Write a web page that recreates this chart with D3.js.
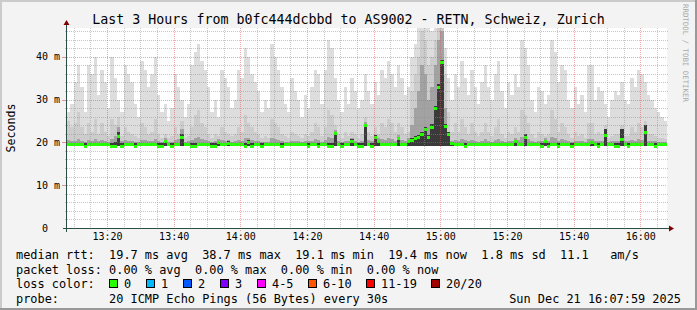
<!DOCTYPE html>
<html>
<head>
<meta charset="utf-8">
<script src="https://cdn.jsdelivr.net/npm/d3@7"></script>
<style>
body { margin: 0; background: #f3f3f3; }
svg text { font-family: "DejaVu Sans Mono", monospace; white-space: pre; }
</style>
</head>
<body>
<div id="chart"></div>
<script>
// time range of the graph (3 hours, one bin per minute)
var startTime = new Date(2025, 11, 21, 13, 8);
var endTime = new Date(2025, 11, 21, 16, 8);
var stepMinutes = 1;

// median rtt per bin (ms)
var medianRtt = [
    19.5,19.5,19.5,19.6,19.5,19.1,19.5,19.5,19.6,19.5,
    19.5,19.5,19.5,19.2,19.1,21.5,19.2,19.5,19.5,19.5,
    19.1,19.5,19.5,19.5,19.5,19.5,19.5,19.2,19.1,20.2,
    19.5,19.1,19.5,19.5,21.3,19.5,19.5,19.1,19.2,19.5,
    19.5,19.5,19.5,19.1,19.1,20.0,19.5,19.5,19.9,19.5,
    19.5,19.5,19.5,19.1,20.1,19.1,19.5,19.5,19.2,19.5,
    19.5,19.5,19.5,19.5,19.1,19.5,19.5,19.5,19.5,19.5,
    19.5,19.5,19.1,19.5,19.5,19.2,19.5,19.5,19.1,19.2,
    22.1,19.5,19.1,19.5,19.5,20.4,19.5,19.1,19.2,24.0,
    19.5,19.1,21.3,20.2,19.5,19.5,19.5,19.5,19.5,21.0,
    19.5,19.5,20.2,20.5,21.0,21.3,22.0,23.0,21.3,23.7,
    28.0,33.0,38.7,23.8,22.0,19.8,19.5,19.5,19.5,19.2,
    19.5,19.5,19.5,19.5,19.5,19.5,19.5,19.5,19.5,19.5,
    19.5,19.5,19.5,19.5,20.2,19.5,19.5,21.2,19.5,19.5,
    19.5,19.5,19.1,20.3,19.1,19.5,19.5,19.2,19.5,19.5,
    19.5,19.1,19.5,19.5,19.5,19.5,19.5,20.0,19.5,19.1,
    19.5,21.7,19.5,19.5,19.2,19.1,20.8,19.5,19.2,19.5,
    19.5,19.5,19.5,22.4,19.5,19.5,19.2,19.5,19.5,19.5
];

// smoke: highest ping per bin
var smokeMax = [
    27,29,34,38,33,27,38,36,40,31,
    37,34,28,40,35,30,27,38,36,34,
    29,26,39,37,33,36,40,31,27,29,
    25,28,36,33,30,26,29,38,41,43,
    39,37,33,27,30,26,37,35,33,28,
    30,37,35,42,40,36,34,32,27,30,
    28,43,40,37,33,29,27,35,32,30,
    26,31,28,33,37,36,29,37,44,42,
    35,30,27,33,29,35,32,28,30,36,
    32,29,34,31,37,35,39,36,33,38,
    35,31,33,40,43,48,48,48,47,46,
    48,48,48,42,35,30,36,33,39,35,
    31,37,33,29,34,38,33,30,36,39,
    32,28,34,31,36,33,44,42,38,30,
    27,33,32,29,31,44,41,34,38,37,
    30,28,33,29,31,27,38,38,30,33,
    32,29,26,30,32,31,34,30,29,35,
    33,37,36,34,31,30,28,27,26,25
];

// smoke: upper pings (~90%)
var smokeHigh = [
    25,23.5,24.5,27,23.5,22,24.5,22.5,25.5,22,
    24.5,22.5,21.5,25.5,24,26,21.5,23.5,22.5,22,
    21.5,21,24.5,23.5,22,22.5,25.5,22,21,22,
    21,21.5,23.5,22,25,21,21.5,23.5,26.5,27.5,
    24.5,23.5,22,21,22,21.5,23.5,22.5,22,21.5,
    22,23.5,22.5,26.5,24.5,23.5,22.5,22,21,21.5,
    21,25.5,24.5,23.5,22,21.5,21,22.5,22,21.5,
    21,22,21.5,22.5,24.5,23.5,21.5,23.5,27.5,26.5,
    24,22,21,22.5,21.5,22.5,22,21,22,26,
    22.5,21.5,23.5,22,24.5,23.5,25.5,24.5,22.5,24.5,
    23.5,22,22.5,32,36,40,46,44,38,40,
    44,48,48,36,27,22.5,24.5,22.5,25.5,23.5,
    22,24.5,22.5,21.5,22.5,24.5,22.5,21.5,23.5,25.5,
    22,21,22.5,22,23.5,22.5,27.5,26.5,24.5,22,
    21,22.5,22,21.5,22,27.5,25.5,22.5,24.5,23.5,
    22,21,22.5,21.5,22,21,24.5,24.5,22,22.5,
    22,24,21,21.5,22,22,24,21.5,21.5,23.5,
    22.5,24.5,23.5,25,22,22,21.5,21,21,20.8
];

// smoke: middle pings (~75%)
var smokeMid = [
    20.6,20.4,20.3,20.8,20.3,20.1,20.5,20.3,20.7,20.2,
    20.5,20.3,20.1,20.7,21.5,23.5,20.2,20.5,20.3,20.2,
    20.1,20.0,20.6,20.5,20.3,20.4,20.7,20.3,20.0,21.0,
    20.0,20.1,20.5,20.8,23.0,20.1,20.2,20.5,21.0,21.2,
    20.7,20.5,20.3,20.0,20.4,20.8,20.5,20.4,20.6,20.1,
    20.3,20.5,20.4,21.0,21.0,20.5,20.4,20.3,20.0,20.1,
    20.0,20.9,20.7,20.5,20.3,20.1,20.0,20.4,20.3,20.2,
    20.0,20.3,20.2,20.4,20.8,20.5,20.1,20.5,21.2,21.0,
    22.8,20.3,20.0,20.4,20.2,21.0,20.3,20.0,20.3,24.8,
    20.5,20.2,21.8,20.9,20.8,20.5,20.9,20.7,20.4,21.6,
    20.5,20.3,20.9,24,28,32,38,36,30,33,
    38,44,46,28,22,20.4,20.6,20.4,20.8,20.5,
    20.2,20.6,20.4,20.1,20.4,20.7,20.4,20.1,20.5,20.8,
    20.3,20.0,20.4,20.3,20.9,20.5,21.2,22.0,20.8,20.3,
    20.1,20.4,20.3,20.9,20.3,21.2,20.9,20.4,20.7,20.6,
    20.3,20.1,20.4,20.2,20.3,20.1,20.7,20.8,20.3,20.4,
    20.3,22.8,20.1,20.2,20.3,20.3,22.5,20.2,20.2,20.5,
    20.4,20.7,20.6,23.5,20.3,20.3,20.2,20.1,20.0,20.0
];

// smoke: pings closest to the median
var smokeDark = [
    19.8,19.8,19.8,19.8,19.8,19.8,19.8,19.8,19.8,19.8,
    19.8,19.8,19.8,19.8,20.0,22.5,19.8,19.8,19.8,19.8,
    19.8,19.8,19.8,19.8,19.8,19.8,19.8,19.8,19.8,20.6,
    19.8,19.8,19.8,19.8,22.0,19.8,19.8,19.8,19.8,19.8,
    19.8,19.8,19.8,19.8,19.8,20.4,19.8,19.8,20.3,19.8,
    19.8,19.8,19.8,19.8,20.6,19.8,19.8,19.8,19.8,19.8,
    19.8,19.8,19.8,19.8,19.8,19.8,19.8,19.8,19.8,19.8,
    19.8,19.8,19.8,19.8,19.8,19.8,19.8,19.8,19.8,19.8,
    22.4,19.8,19.8,19.8,19.8,20.7,19.8,19.8,19.8,24.4,
    19.8,19.8,21.6,20.5,19.8,19.8,19.8,19.8,19.8,21.3,
    19.8,19.8,20.5,21.0,21.5,21.8,22.5,23.5,21.8,24.2,
    28.6,33.6,39.3,24.3,22.3,20.1,19.8,19.8,19.8,19.8,
    19.8,19.8,19.8,19.8,19.8,19.8,19.8,19.8,19.8,19.8,
    19.8,19.8,19.8,19.8,20.5,19.8,19.8,22.0,19.8,19.8,
    19.8,19.8,19.8,20.6,19.8,19.8,19.8,19.8,19.8,19.8,
    19.8,19.8,19.8,19.8,19.8,19.8,19.8,20.3,19.8,19.8,
    19.8,23.0,19.8,19.8,19.8,19.8,23.0,19.8,19.8,19.8,
    19.8,19.8,19.8,24.0,19.8,19.8,19.8,19.8,19.8,19.8
];
var smokeFloor = 19.1;

var yMax = 46.7;
var yTicks = [0, 10, 20, 30, 40];
var yTickLabels = ["0  ", "10 m", "20 m", "30 m", "40 m"];

var titleText = "Last 3 Hours from b0fc444dcbbd to AS9002 - RETN, Schweiz, Zurich";
var rttLine = "median rtt:  19.7 ms avg  38.7 ms max  19.1 ms min  19.4 ms now  1.8 ms sd  11.1   am/s";
var lossLine = "packet loss: 0.00 % avg  0.00 % max  0.00 % min  0.00 % now";
var probeLine = "probe:       20 ICMP Echo Pings (56 Bytes) every 30s";
var dateText = "Sun Dec 21 16:07:59 2025";

var lossLabels = ["0", "1", "2", "3", "4-5", "6-10", "11-19", "20/20"];
var lossColors = ["#26ff00", "#00b8ff", "#0059ff", "#7e00ff", "#ff00ff", "#ff5500", "#ff0000", "#a10000"];

// layout
var W = 697, H = 310;
var plot = {left: 67, top: 28, width: 600, height: 200};
var lossBoxX = [109, 146, 183, 220, 257, 308, 366, 431];

var svg = d3.select("#chart").append("svg")
    .attr("width", W)
    .attr("height", H);

// background + 3d frame
svg.append("rect").attr("width", W).attr("height", H).attr("fill", "#f3f3f3");
svg.append("rect").attr("x", 0).attr("y", 0).attr("width", W).attr("height", 2).attr("fill", "#cbcbcb");
svg.append("rect").attr("x", 0).attr("y", 0).attr("width", 2).attr("height", H).attr("fill", "#cbcbcb");
svg.append("rect").attr("x", 0).attr("y", H - 2).attr("width", W).attr("height", 2).attr("fill", "#999999");
svg.append("rect").attr("x", W - 2).attr("y", 0).attr("width", 2).attr("height", H).attr("fill", "#999999");

// scales
var x = d3.scaleTime()
    .domain([startTime, endTime])
    .range([plot.left, plot.left + plot.width]);

var y = d3.scaleLinear()
    .domain([0, yMax])
    .range([plot.top + plot.height, plot.top]);

svg.append("rect")
    .attr("x", plot.left).attr("y", plot.top)
    .attr("width", plot.width).attr("height", plot.height)
    .attr("fill", "#ffffff");

svg.append("clipPath").attr("id", "plotclip")
    .append("rect")
    .attr("x", plot.left).attr("y", plot.top)
    .attr("width", plot.width).attr("height", plot.height);

var bins = medianRtt.map(function(d, i) {
    return {
        t0: d3.timeMinute.offset(startTime, i * stepMinutes),
        t1: d3.timeMinute.offset(startTime, (i + 1) * stepMinutes),
        median: d,
        max: smokeMax[i],
        high: smokeHigh[i],
        mid: smokeMid[i],
        dark: smokeDark[i]
    };
});

var dataG = svg.append("g").attr("clip-path", "url(#plotclip)");

// smoke layers, outer to inner
var layers = [
    {key: "max", color: "#dddddd"},
    {key: "high", color: "#cccccc"},
    {key: "mid", color: "#a2a2a2"},
    {key: "dark", color: "#3a3a3a"}
];

layers.forEach(function(layer) {
    dataG.selectAll("rect.smoke-" + layer.key)
        .data(bins)
        .enter()
        .append("rect")
        .attr("class", "smoke-" + layer.key)
        .attr("shape-rendering", "crispEdges")
        .attr("x", function(d) { return Math.round(x(d.t0)); })
        .attr("width", function(d) { return Math.round(x(d.t1)) - Math.round(x(d.t0)); })
        .attr("y", function(d) { return Math.round(y(d[layer.key])); })
        .attr("height", function(d) { return Math.max(0, Math.round(y(smokeFloor)) - Math.round(y(d[layer.key]))); })
        .attr("fill", layer.color);
});

// median rtt, coloured by loss (all 0 here)
dataG.selectAll("rect.median")
    .data(bins)
    .enter()
    .append("rect")
    .attr("class", "median")
    .attr("shape-rendering", "crispEdges")
    .attr("x", function(d) { return Math.round(x(d.t0)); })
    .attr("width", function(d) { return Math.round(x(d.t1)) - Math.round(x(d.t0)); })
    .attr("y", function(d) { return Math.round(y(d.median)) - 1; })
    .attr("height", 3)
    .attr("fill", lossColors[0]);

// grid
var gridG = svg.append("g").attr("shape-rendering", "crispEdges");
var yBottom = plot.top + plot.height, xRight = plot.left + plot.width;

var minorTimes = d3.timeMinute.every(5).range(startTime, endTime)
    .filter(function(t) { return t.getMinutes() % 20 !== 0; });
var majorTimes = d3.timeMinute.every(20).range(startTime, endTime);
var minorVals = d3.range(2, yMax, 2).filter(function(v) { return v % 10 !== 0; });
var majorVals = yTicks.filter(function(v) { return v > 0; });

gridG.selectAll("line.vminor").data(minorTimes).enter().append("line")
    .attr("x1", function(d) { return Math.round(x(d)) + 0.5; })
    .attr("x2", function(d) { return Math.round(x(d)) + 0.5; })
    .attr("y1", plot.top).attr("y2", yBottom + 2)
    .attr("stroke", "#8f8f8f").attr("stroke-opacity", 0.5)
    .attr("stroke-dasharray", "1,1");

gridG.selectAll("line.hminor").data(minorVals).enter().append("line")
    .attr("y1", function(d) { return Math.round(y(d)) + 0.5; })
    .attr("y2", function(d) { return Math.round(y(d)) + 0.5; })
    .attr("x1", plot.left - 2).attr("x2", xRight + 2)
    .attr("stroke", "#8f8f8f").attr("stroke-opacity", 0.5)
    .attr("stroke-dasharray", "1,1");

gridG.selectAll("line.vmajor").data(majorTimes).enter().append("line")
    .attr("x1", function(d) { return Math.round(x(d)) + 0.5; })
    .attr("x2", function(d) { return Math.round(x(d)) + 0.5; })
    .attr("y1", plot.top).attr("y2", yBottom + 3)
    .attr("stroke", "#de5050").attr("stroke-opacity", 0.5)
    .attr("stroke-dasharray", "1,1");

gridG.selectAll("line.hmajor").data(majorVals).enter().append("line")
    .attr("y1", function(d) { return Math.round(y(d)) + 0.5; })
    .attr("y2", function(d) { return Math.round(y(d)) + 0.5; })
    .attr("x1", plot.left).attr("x2", xRight)
    .attr("stroke", "#de5050").attr("stroke-opacity", 0.5)
    .attr("stroke-dasharray", "1,1");

// small solid ticks left of the y axis
gridG.selectAll("line.ytick").data(majorVals).enter().append("line")
    .attr("y1", function(d) { return Math.round(y(d)) + 0.5; })
    .attr("y2", function(d) { return Math.round(y(d)) + 0.5; })
    .attr("x1", plot.left - 5).attr("x2", plot.left)
    .attr("stroke", "#de5050").attr("stroke-opacity", 0.6);

// axes lines + arrows
svg.append("line")
    .attr("x1", plot.left - 0.5).attr("x2", plot.left - 0.5)
    .attr("y1", yBottom + 4).attr("y2", plot.top - 4)
    .attr("stroke", "#2c4d43").attr("shape-rendering", "crispEdges");
svg.append("line")
    .attr("x1", plot.left - 4).attr("x2", xRight + 3)
    .attr("y1", yBottom + 0.5).attr("y2", yBottom + 0.5)
    .attr("stroke", "#2c4d43").attr("shape-rendering", "crispEdges");
svg.append("path")
    .attr("d", "M" + (plot.left - 0.5) + "," + (plot.top - 8) + "L" + (plot.left - 3.5) + "," + (plot.top - 3) +
        "L" + (plot.left + 2.5) + "," + (plot.top - 3) + "Z")
    .attr("fill", "#7f0000");
svg.append("path")
    .attr("d", "M" + (xRight + 7) + "," + (yBottom + 0.5) + "L" + (xRight + 2) + "," + (yBottom - 2.5) +
        "L" + (xRight + 2) + "," + (yBottom + 3.5) + "Z")
    .attr("fill", "#7f0000");

// axis labels
var xAxis = d3.axisBottom(x)
    .ticks(d3.timeMinute.every(20))
    .tickFormat(d3.timeFormat("%H:%M"))
    .tickSize(0)
    .tickPadding(5);

var xAxisGroup = svg.append("g")
    .attr("transform", "translate(0," + yBottom + ")")
    .call(xAxis);
xAxisGroup.select(".domain").remove();
xAxisGroup.selectAll("text").attr("font-size", 10).attr("fill", "#000")
    .style("font-family", "'DejaVu Sans Mono', monospace");

var yAxis = d3.axisLeft(y)
    .tickValues(yTicks)
    .tickFormat(function(d, i) { return yTickLabels[i]; })
    .tickSize(0)
    .tickPadding(7);

var yAxisGroup = svg.append("g")
    .attr("transform", "translate(" + plot.left + ",0)")
    .call(yAxis);
yAxisGroup.select(".domain").remove();
yAxisGroup.selectAll("text").attr("font-size", 10).attr("fill", "#000")
    .style("font-family", "'DejaVu Sans Mono', monospace");

svg.append("text")
    .attr("transform", "translate(15," + (plot.top + plot.height / 2) + ") rotate(-90)")
    .attr("text-anchor", "middle")
    .attr("font-size", 11.6)
    .text("Seconds");

// title
svg.append("text")
    .attr("x", 348.5)
    .attr("y", 24)
    .attr("text-anchor", "middle")
    .attr("font-size", 13.3)
    .text(titleText);

// watermark
svg.append("text")
    .attr("transform", "translate(683,4) rotate(90)")
    .attr("font-size", 7.4)
    .attr("fill", "#aaaaaa")
    .text("RRDTOOL / TOBI OETIKER");

// legend
var legendFont = 11.9;
svg.append("text").attr("x", 16).attr("y", 259).attr("font-size", legendFont).text(rttLine);
svg.append("text").attr("x", 16).attr("y", 273.5).attr("font-size", legendFont).text(lossLine);
svg.append("text").attr("x", 16).attr("y", 288).attr("font-size", legendFont).text("loss color:");
svg.append("text").attr("x", 16).attr("y", 302.5).attr("font-size", legendFont).text(probeLine);
svg.append("text").attr("x", 681).attr("y", 302.5).attr("text-anchor", "end")
    .attr("font-size", legendFont).text(dateText);

var lossItems = svg.selectAll("g.loss")
    .data(lossLabels)
    .enter()
    .append("g")
    .attr("class", "loss")
    .attr("transform", function(d, i) { return "translate(" + lossBoxX[i] + ",0)"; });

lossItems.append("rect")
    .attr("x", 0.5).attr("y", 279.5)
    .attr("width", 8).attr("height", 8)
    .attr("fill", function(d, i) { return lossColors[i]; })
    .attr("stroke", "#000");

lossItems.append("text")
    .attr("x", 15)
    .attr("y", 288)
    .attr("font-size", legendFont)
    .text(function(d) { return d; });
</script>
</body>
</html>
